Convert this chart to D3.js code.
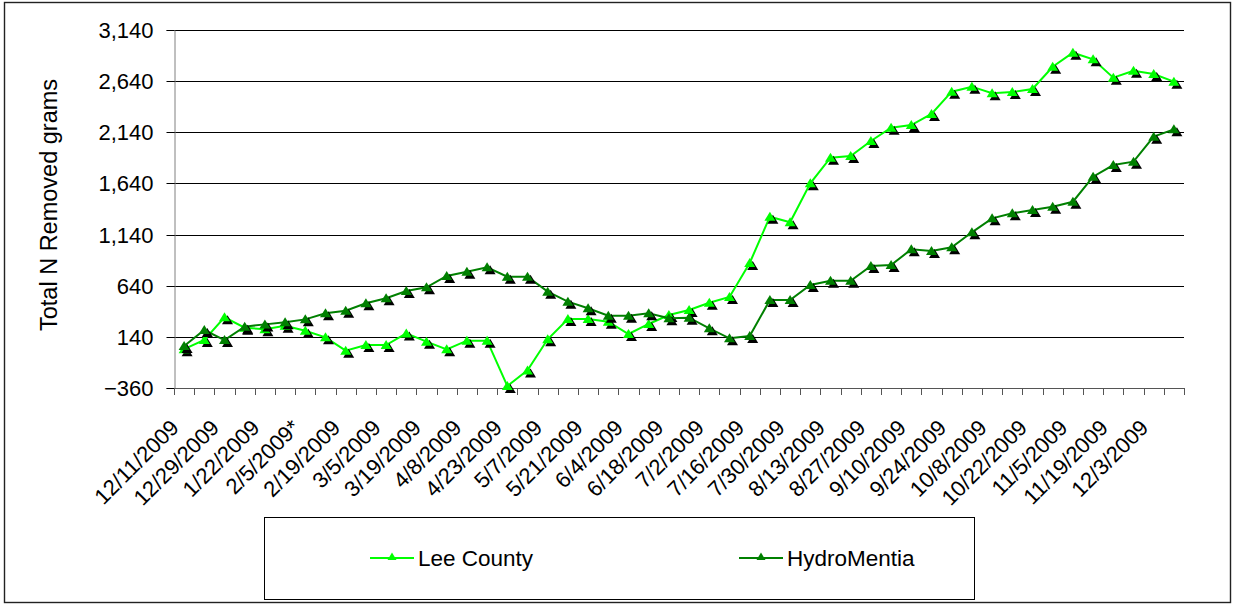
<!DOCTYPE html>
<html>
<head>
<meta charset="utf-8">
<script src="https://cdn.jsdelivr.net/npm/d3@7"></script>
<style>
  html, body { margin: 0; padding: 0; background: #fff; }
  svg { display: block; font-family: Arial, "Liberation Sans", sans-serif; }
</style>
</head>
<body>
<svg id="chart" width="1233" height="605"></svg>
<script>
// Sampling dates (every second one is printed on the axis)
const dates = [
  "12/11/2009","12/18/2009","12/29/2009","1/8/2009","1/22/2009","1/29/2009",
  "2/5/2009*","2/12/2009","2/19/2009","2/26/2009","3/5/2009","3/12/2009",
  "3/19/2009","3/26/2009","4/8/2009","4/15/2009","4/23/2009","4/30/2009",
  "5/7/2009","5/14/2009","5/21/2009","5/28/2009","6/4/2009","6/11/2009",
  "6/18/2009","6/25/2009","7/2/2009","7/9/2009","7/16/2009","7/23/2009",
  "7/30/2009","8/6/2009","8/13/2009","8/20/2009","8/27/2009","9/3/2009",
  "9/10/2009","9/17/2009","9/24/2009","10/1/2009","10/8/2009","10/15/2009",
  "10/22/2009","10/29/2009","11/5/2009","11/12/2009","11/19/2009","11/26/2009",
  "12/3/2009","12/10/2009"
];

// Total N removed (grams)
const leeCounty = [
  20, 109, 331, 230, 214, 249, 200, 135, 5, 60,
  60, 174, 93, 18, 103, 103, -340, -188, 116, 314,
  314, 288, 168, 266, 354, 402, 474, 530, 862, 1315,
  1260, 1641, 1892, 1908, 2055, 2185, 2211, 2319, 2537, 2586,
  2521, 2534, 2563, 2781, 2918, 2853, 2674, 2742, 2710, 2635
];
const hydroMentia = [
  50, 207, 109, 240, 262, 282, 311, 370, 396, 468,
  517, 588, 624, 735, 777, 820, 728, 728, 582, 484,
  419, 347, 347, 370, 321, 327, 223, 126, 148, 500,
  500, 647, 689, 689, 833, 842, 996, 979, 1015, 1162,
  1299, 1348, 1380, 1413, 1461, 1706, 1820, 1853, 2097, 2169
];

const yTicks = [-360, 140, 640, 1140, 1640, 2140, 2640, 3140];
const seriesNames = ["Lee County", "HydroMentia"];
const seriesColors = ["#00ff00", "#008000"];

const svg = d3.select("#chart");
const plot = { left: 174, right: 1184, top: 30, bottom: 388 };

// Chart frame
svg.append("rect")
  .attr("x", 4.5).attr("y", 2.5).attr("width", 1226).attr("height", 600)
  .attr("fill", "#fff").attr("stroke", "#222").attr("stroke-width", 1.4);

const x = d3.scaleBand().domain(dates).range([plot.left, plot.right]).padding(0);
const y = d3.scaleLinear().domain([-360, 3140]).range([plot.bottom, plot.top]);
const cx = d => x(d) + x.bandwidth() / 2;

// Horizontal gridlines
svg.append("g").selectAll("line")
  .data(yTicks.filter(v => v !== -360))
  .join("line")
  .attr("x1", plot.left).attr("x2", plot.right)
  .attr("y1", d => Math.round(y(d)) + 0.5).attr("y2", d => Math.round(y(d)) + 0.5)
  .attr("stroke", "#000").attr("stroke-width", 1);

// Y axis
const yAxis = svg.append("g")
  .attr("transform", `translate(${plot.left + 0.5},0)`)
  .call(d3.axisLeft(y).tickValues(yTicks).tickFormat(d3.format(",")).tickSize(8).tickPadding(13));
yAxis.select(".domain").attr("stroke", "#808080");
yAxis.selectAll(".tick line").attr("stroke", "#000");
yAxis.selectAll(".tick text")
  .attr("font-size", 22).attr("fill", "#000")
  .attr("font-family", "Arial, 'Liberation Sans', sans-serif");
yAxis.selectAll(".tick").attr("transform", d => `translate(0,${Math.round(y(d)) + 0.5})`);

// X axis: ticks at category boundaries
const xAxisG = svg.append("g");
xAxisG.append("line")
  .attr("x1", plot.left).attr("x2", plot.right)
  .attr("y1", plot.bottom + 0.5).attr("y2", plot.bottom + 0.5)
  .attr("stroke", "#555");
const bounds = d3.range(dates.length + 1).map(i => plot.left + i * x.bandwidth());
xAxisG.selectAll("line.tk").data(bounds).join("line").attr("class", "tk")
  .attr("x1", d => Math.round(d) + 0.5).attr("x2", d => Math.round(d) + 0.5)
  .attr("y1", plot.bottom).attr("y2", plot.bottom + 7)
  .attr("stroke", "#555");
xAxisG.selectAll("text").data(dates.filter((d, i) => i % 2 === 0)).join("text")
  .attr("transform", d => `translate(${cx(d) - 4},${plot.bottom + 41}) rotate(-45)`)
  .attr("text-anchor", "end")
  .attr("font-size", 22)
  .text(d => d);

// Y axis title
svg.append("text")
  .attr("transform", "translate(56.5,205) rotate(-90)")
  .attr("text-anchor", "middle")
  .attr("font-size", 23.5)
  .text("Total N Removed grams");

// Series
const tri = "M0,-5L5.5,4L-5.5,4Z";
const series = [leeCounty, hydroMentia];
series.forEach((vals, s) => {
  const pts = dates.map((d, i) => [cx(d), y(vals[i])]);
  svg.append("path")
    .attr("d", d3.line()(pts))
    .attr("fill", "none")
    .attr("stroke", seriesColors[s])
    .attr("stroke-width", 2);
  const g = svg.append("g");
  g.selectAll("path.sh").data(pts).join("path").attr("class", "sh")
    .attr("d", tri)
    .attr("transform", p => `translate(${p[0] + 3},${p[1] + 3})`)
    .attr("fill", "#000");
  g.selectAll("path.mk").data(pts).join("path").attr("class", "mk")
    .attr("d", tri)
    .attr("transform", p => `translate(${p[0]},${p[1]})`)
    .attr("fill", seriesColors[s]);
});

// Legend
const legend = svg.append("g");
legend.append("rect")
  .attr("x", 264.5).attr("y", 517.5).attr("width", 710).attr("height", 82)
  .attr("fill", "#fff").attr("stroke", "#000").attr("stroke-width", 1);
const legendX = [370, 739];
seriesNames.forEach((name, s) => {
  const lx = legendX[s];
  legend.append("line")
    .attr("x1", lx).attr("x2", lx + 44).attr("y1", 558).attr("y2", 558)
    .attr("stroke", seriesColors[s]).attr("stroke-width", 2);
  legend.append("path")
    .attr("d", "M0,-4.5L4.5,3L-4.5,3Z")
    .attr("transform", `translate(${lx + 22},557)`)
    .attr("fill", seriesColors[s]);
  legend.append("text")
    .attr("x", lx + 48).attr("y", 566)
    .attr("font-size", 22.5)
    .text(name);
});
</script>
</body>
</html>
